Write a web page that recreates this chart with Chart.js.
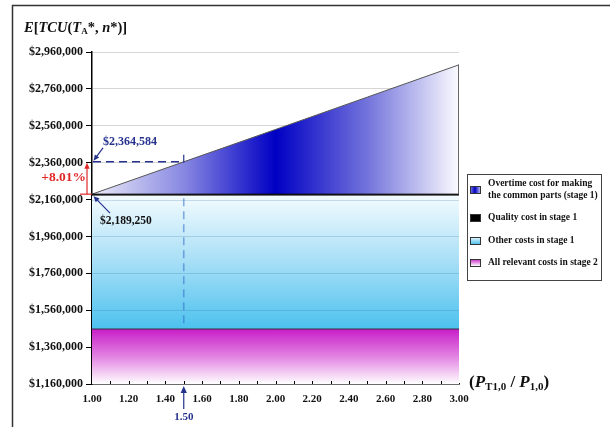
<!DOCTYPE html>
<html>
<head>
<meta charset="utf-8">
<script src="https://cdn.jsdelivr.net/npm/chart.js@4.4.1/dist/chart.umd.min.js"></script>
<style>
  html, body { margin: 0; padding: 0; background: #fff; }
  #wrap { width: 610px; height: 427px; position: relative; }
</style>
</head>
<body>
<div id="wrap"><canvas id="myChart"></canvas></div>
<script>
// values (stacked components)
const xValues = [1.00, 1.50, 2.00, 2.50, 3.00];
const stage2Costs = [1458000, 1458000, 1458000, 1458000, 1458000];
const otherCostsStage1 = [722000, 722000, 722000, 722000, 722000];
const qualityCostStage1 = [9250, 9250, 9250, 9250, 9250];
const overtimeCost = [0, 175334, 350670, 526000, 701340];

const yTicks = [1160000, 1360000, 1560000, 1760000, 1960000, 2160000, 2360000, 2560000, 2760000, 2960000];
const xTicks = [1.00, 1.20, 1.40, 1.60, 1.80, 2.00, 2.20, 2.40, 2.60, 2.80, 3.00];
const markX = 1.50;

const seriesNames = [
  'All relevant costs in stage 2',
  'Other costs in stage 1',
  'Quality cost in stage 1',
  'Overtime cost for making|the common parts (stage 1)'
];

const NAVY = '#25318f';
const RED = '#e02828';
const SERIF = '"Liberation Serif", "DejaVu Serif", serif';

function pts(arr) { return xValues.map((x, i) => ({ x: x, y: arr[i] })); }
function money(v) { return '$' + Math.round(v).toLocaleString('en-US'); }

function vGrad(ctx, top, bottom, stops) {
  const area = ctx.chart.chartArea;
  if (!area) return null;
  const y = ctx.chart.scales.y;
  const g = ctx.chart.ctx.createLinearGradient(0, y.getPixelForValue(top), 0, y.getPixelForValue(bottom));
  stops.forEach(s => g.addColorStop(s[0], s[1]));
  return g;
}

const stage2Top = stage2Costs[0];
const otherTop = stage2Costs[0] + otherCostsStage1[0];

function arrow(c, x1, y1, x2, y2, color, head) {
  const a = Math.atan2(y2 - y1, x2 - x1);
  c.strokeStyle = color; c.fillStyle = color; c.lineWidth = 1.2;
  c.beginPath(); c.moveTo(x1, y1); c.lineTo(x2 - Math.cos(a) * head * 0.8, y2 - Math.sin(a) * head * 0.8); c.stroke();
  c.beginPath();
  c.moveTo(x2, y2);
  c.lineTo(x2 - head * Math.cos(a) + head * 0.45 * Math.sin(a), y2 - head * Math.sin(a) - head * 0.45 * Math.cos(a));
  c.lineTo(x2 - head * Math.cos(a) - head * 0.45 * Math.sin(a), y2 - head * Math.sin(a) + head * 0.45 * Math.cos(a));
  c.closePath(); c.fill();
}

function pieces(c, x, y, parts) {
  parts.forEach(p => {
    c.font = p.font;
    c.fillText(p.t, x, y + (p.dy || 0));
    x += c.measureText(p.t).width;
  });
}

const decor = {
  id: 'decor',
  afterDatasetsDraw(chart) {
    const c = chart.ctx, xs = chart.scales.x, ys = chart.scales.y, a = chart.chartArea;
    c.save();
    // gridlines seen through the blue band
    c.strokeStyle = 'rgba(40,110,160,0.22)'; c.lineWidth = 1;
    yTicks.forEach(v => {
      if (v > stage2Top && v < otherTop) {
        const py = Math.round(ys.getPixelForValue(v)) + 0.5;
        c.beginPath(); c.moveTo(a.left, py); c.lineTo(a.right, py); c.stroke();
      }
    });
    // right edge of the overtime wedge
    const last = xValues.length - 1;
    const base = stage2Costs[last] + otherCostsStage1[last] + qualityCostStage1[last];
    c.strokeStyle = '#666';
    c.beginPath();
    c.moveTo(xs.getPixelForValue(xValues[last]) - 0.5, ys.getPixelForValue(base + overtimeCost[last]));
    c.lineTo(xs.getPixelForValue(xValues[last]) - 0.5, ys.getPixelForValue(base));
    c.stroke();

    // reference at x = 1.50
    const i = xValues.indexOf(markX);
    const baseVal = stage2Costs[0] + otherCostsStage1[0] + qualityCostStage1[0];
    const markVal = stage2Costs[i] + otherCostsStage1[i] + qualityCostStage1[i] + overtimeCost[i];
    const px = xs.getPixelForValue(markX);
    const pyMark = ys.getPixelForValue(markVal);
    const pyBase = ys.getPixelForValue(baseVal);
    const pyStage2 = ys.getPixelForValue(stage2Top);

    c.setLineDash([8, 5]); c.lineWidth = 1.5; c.strokeStyle = NAVY;
    c.beginPath(); c.moveTo(a.left + 1, pyMark); c.lineTo(px, pyMark); c.stroke();
    c.strokeStyle = 'rgba(50,110,200,0.55)'; c.lineWidth = 1.6;
    c.beginPath(); c.moveTo(px, pyBase + 4); c.lineTo(px, pyStage2); c.stroke();
    c.setLineDash([]);
    c.strokeStyle = NAVY; c.lineWidth = 1.2;
    c.beginPath(); c.moveTo(px, pyMark - 7); c.lineTo(px, pyMark + 1); c.stroke();

    // value labels
    c.font = 'bold 12px ' + SERIF; c.textBaseline = 'middle'; c.textAlign = 'left';
    c.fillStyle = NAVY;
    c.fillText(money(markVal), a.left + 11, pyMark - 20);
    arrow(c, a.left + 11, pyMark - 14, a.left + 1.5, pyMark - 1, NAVY, 6);
    c.fillStyle = '#111';
    c.font = 'bold 11.5px ' + SERIF;
    c.fillText(money(baseVal), a.left + 8, pyBase + 27);
    arrow(c, a.left + 18, pyBase + 19, a.left + 1.5, pyBase + 2, NAVY, 6);

    // percentage rise
    c.strokeStyle = RED; c.lineWidth = 1.2;
    c.beginPath(); c.moveTo(a.left - 12, pyBase); c.lineTo(a.left, pyBase); c.stroke();
    arrow(c, a.left - 5, pyBase, a.left - 5, pyMark + 1, RED, 6);
    c.fillStyle = RED; c.font = 'bold 13.5px ' + SERIF; c.textAlign = 'right';
    const pct = ((markVal - baseVal) / baseVal * 100).toFixed(2);
    c.fillText('+' + pct + '%', a.left - 6, (pyMark + pyBase) / 2);

    // x marker under the axis
    arrow(c, px, a.bottom + 25, px, a.bottom + 2, NAVY, 7);
    c.fillStyle = NAVY; c.font = 'bold 11px ' + SERIF; c.textAlign = 'center';
    c.fillText(markX.toFixed(2), px, a.bottom + 33);

    // small inward ticks on the x axis
    c.strokeStyle = '#000'; c.lineWidth = 1;
    for (let k = 1; k < 20; k++) {
      const tx = Math.round(xs.getPixelForValue(1 + k * 0.1)) + 0.5;
      c.beginPath(); c.moveTo(tx, a.bottom); c.lineTo(tx, a.bottom - 3); c.stroke();
    }
    c.restore();
  },
  afterDraw(chart) {
    const c = chart.ctx, a = chart.chartArea;
    c.save();
    // outer frame
    c.strokeStyle = '#333'; c.lineWidth = 1.5;
    c.beginPath(); c.moveTo(12.5, 427); c.lineTo(12.5, 5.5); c.lineTo(610, 5.5); c.stroke();

    // axis titles
    c.fillStyle = '#111'; c.textBaseline = 'alphabetic'; c.textAlign = 'left';
    const bi = 'italic bold 14.5px ' + SERIF, b = 'bold 14.5px ' + SERIF, sub = 'bold 9px ' + SERIF;
    pieces(c, 24, 32, [
      { t: 'E', font: bi }, { t: '[', font: b }, { t: 'TCU', font: bi }, { t: '(', font: b },
      { t: 'T', font: bi }, { t: 'A', font: sub, dy: 2 }, { t: '*, ', font: b },
      { t: 'n', font: bi }, { t: '*)]', font: b }
    ]);
    const b15 = 'bold 17px ' + SERIF, bi15 = 'italic bold 17px ' + SERIF, sub2 = 'bold 11px ' + SERIF;
    pieces(c, 469, a.bottom + 3, [
      { t: '(', font: b15 }, { t: 'P', font: bi15 }, { t: 'T1,0', font: sub2, dy: 3 },
      { t: ' / ', font: b15 }, { t: 'P', font: bi15 }, { t: '1,0', font: sub2, dy: 3 }, { t: ')', font: b15 }
    ]);

    // legend box
    c.fillStyle = '#fff'; c.fillRect(467, 174, 134, 106);
    c.strokeStyle = '#444'; c.lineWidth = 1; c.strokeRect(467.5, 174.5, 134, 106);
    const items = [
      { name: seriesNames[3], y: 190, fill: () => { const g = c.createLinearGradient(470, 0, 480, 0); g.addColorStop(0, '#8080e8'); g.addColorStop(0.5, '#0000c0'); g.addColorStop(1, '#b0b0f0'); return g; } },
      { name: seriesNames[2], y: 218, fill: () => '#000' },
      { name: seriesNames[1], y: 241, fill: () => { const g = c.createLinearGradient(0, 237, 0, 244); g.addColorStop(0, '#f0fafe'); g.addColorStop(1, '#4fc3ee'); return g; } },
      { name: seriesNames[0], y: 263, fill: () => { const g = c.createLinearGradient(0, 259, 0, 266); g.addColorStop(0, '#c81ec8'); g.addColorStop(1, '#ffffff'); return g; } }
    ];
    c.font = 'bold 9.5px ' + SERIF; c.textBaseline = 'middle';
    items.forEach(it => {
      c.fillStyle = it.fill(); c.fillRect(470.5, it.y - 3.5, 10, 7);
      c.strokeStyle = '#333'; c.strokeRect(470.5, it.y - 3.5, 10, 7);
      c.fillStyle = '#111';
      const lines = it.name.split('|');
      lines.forEach((ln, j) => c.fillText(ln, 488, it.y + (j - (lines.length - 1) / 2) * 12));
    });
    c.restore();
  }
};

const ctx = document.getElementById('myChart');

new Chart(ctx, {
  type: 'line',
  data: {
    datasets: [
      {
        label: seriesNames[0], data: pts(stage2Costs), fill: 'start',
        backgroundColor: (cx) => vGrad(cx, stage2Top, yTicks[0], [[0, '#c81ec8'], [0.5, '#e283e2'], [1, '#ffffff']]),
        borderColor: '#3a2a3a', borderWidth: 1
      },
      {
        label: seriesNames[1], data: pts(otherCostsStage1), fill: '-1',
        backgroundColor: (cx) => vGrad(cx, otherTop, stage2Top, [[0, '#f3fbfe'], [0.5, '#a6def6'], [1, '#4cc2ee']]),
        borderColor: 'rgba(0,0,0,0)', borderWidth: 0
      },
      {
        label: seriesNames[2], data: pts(qualityCostStage1), fill: '-1',
        backgroundColor: '#000', borderColor: '#000', borderWidth: 1
      },
      {
        label: seriesNames[3], data: pts(overtimeCost), fill: '-1',
        backgroundColor: (cx) => {
          const area = cx.chart.chartArea;
          if (!area) return null;
          const g = cx.chart.ctx.createLinearGradient(area.left, 0, area.right, 0);
          g.addColorStop(0, '#ebebf9'); g.addColorStop(0.25, '#8888e2');
          g.addColorStop(0.5, '#0000c4'); g.addColorStop(0.75, '#7373dc'); g.addColorStop(1, '#fbfbff');
          return g;
        },
        borderColor: '#555', borderWidth: 1
      }
    ]
  },
  options: {
    responsive: true,
    maintainAspectRatio: false,
    animation: false,
    layout: { padding: { top: 52, right: 151, left: 0, bottom: 0 } },
    elements: { point: { radius: 0 }, line: { tension: 0 } },
    plugins: { legend: { display: false }, tooltip: { enabled: false } },
    scales: {
      x: {
        type: 'linear', min: 1, max: 3,
        afterBuildTicks: s => { s.ticks = xTicks.map(v => ({ value: v })); },
        afterFit: s => { s.height = 43; },
        grid: { display: true, drawOnChartArea: false, drawTicks: false },
        border: { color: '#000', width: 1.5 },
        ticks: { padding: 9, color: '#111', font: { family: SERIF, size: 11, weight: 'bold' }, callback: v => Number(v).toFixed(2) }
      },
      y: {
        stacked: true,
        min: yTicks[0], max: yTicks[yTicks.length - 1],
        afterBuildTicks: s => { s.ticks = yTicks.map(v => ({ value: v })); },
        afterFit: s => { s.width = 92; },
        grid: { color: '#d6d6d6', tickColor: '#000', tickLength: 6 },
        border: { color: '#000', width: 1.5 },
        ticks: { padding: 3, color: '#111', font: { family: SERIF, size: 12, weight: 'bold' }, callback: v => money(v) }
      }
    }
  },
  plugins: [decor]
});
</script>
</body>
</html>
